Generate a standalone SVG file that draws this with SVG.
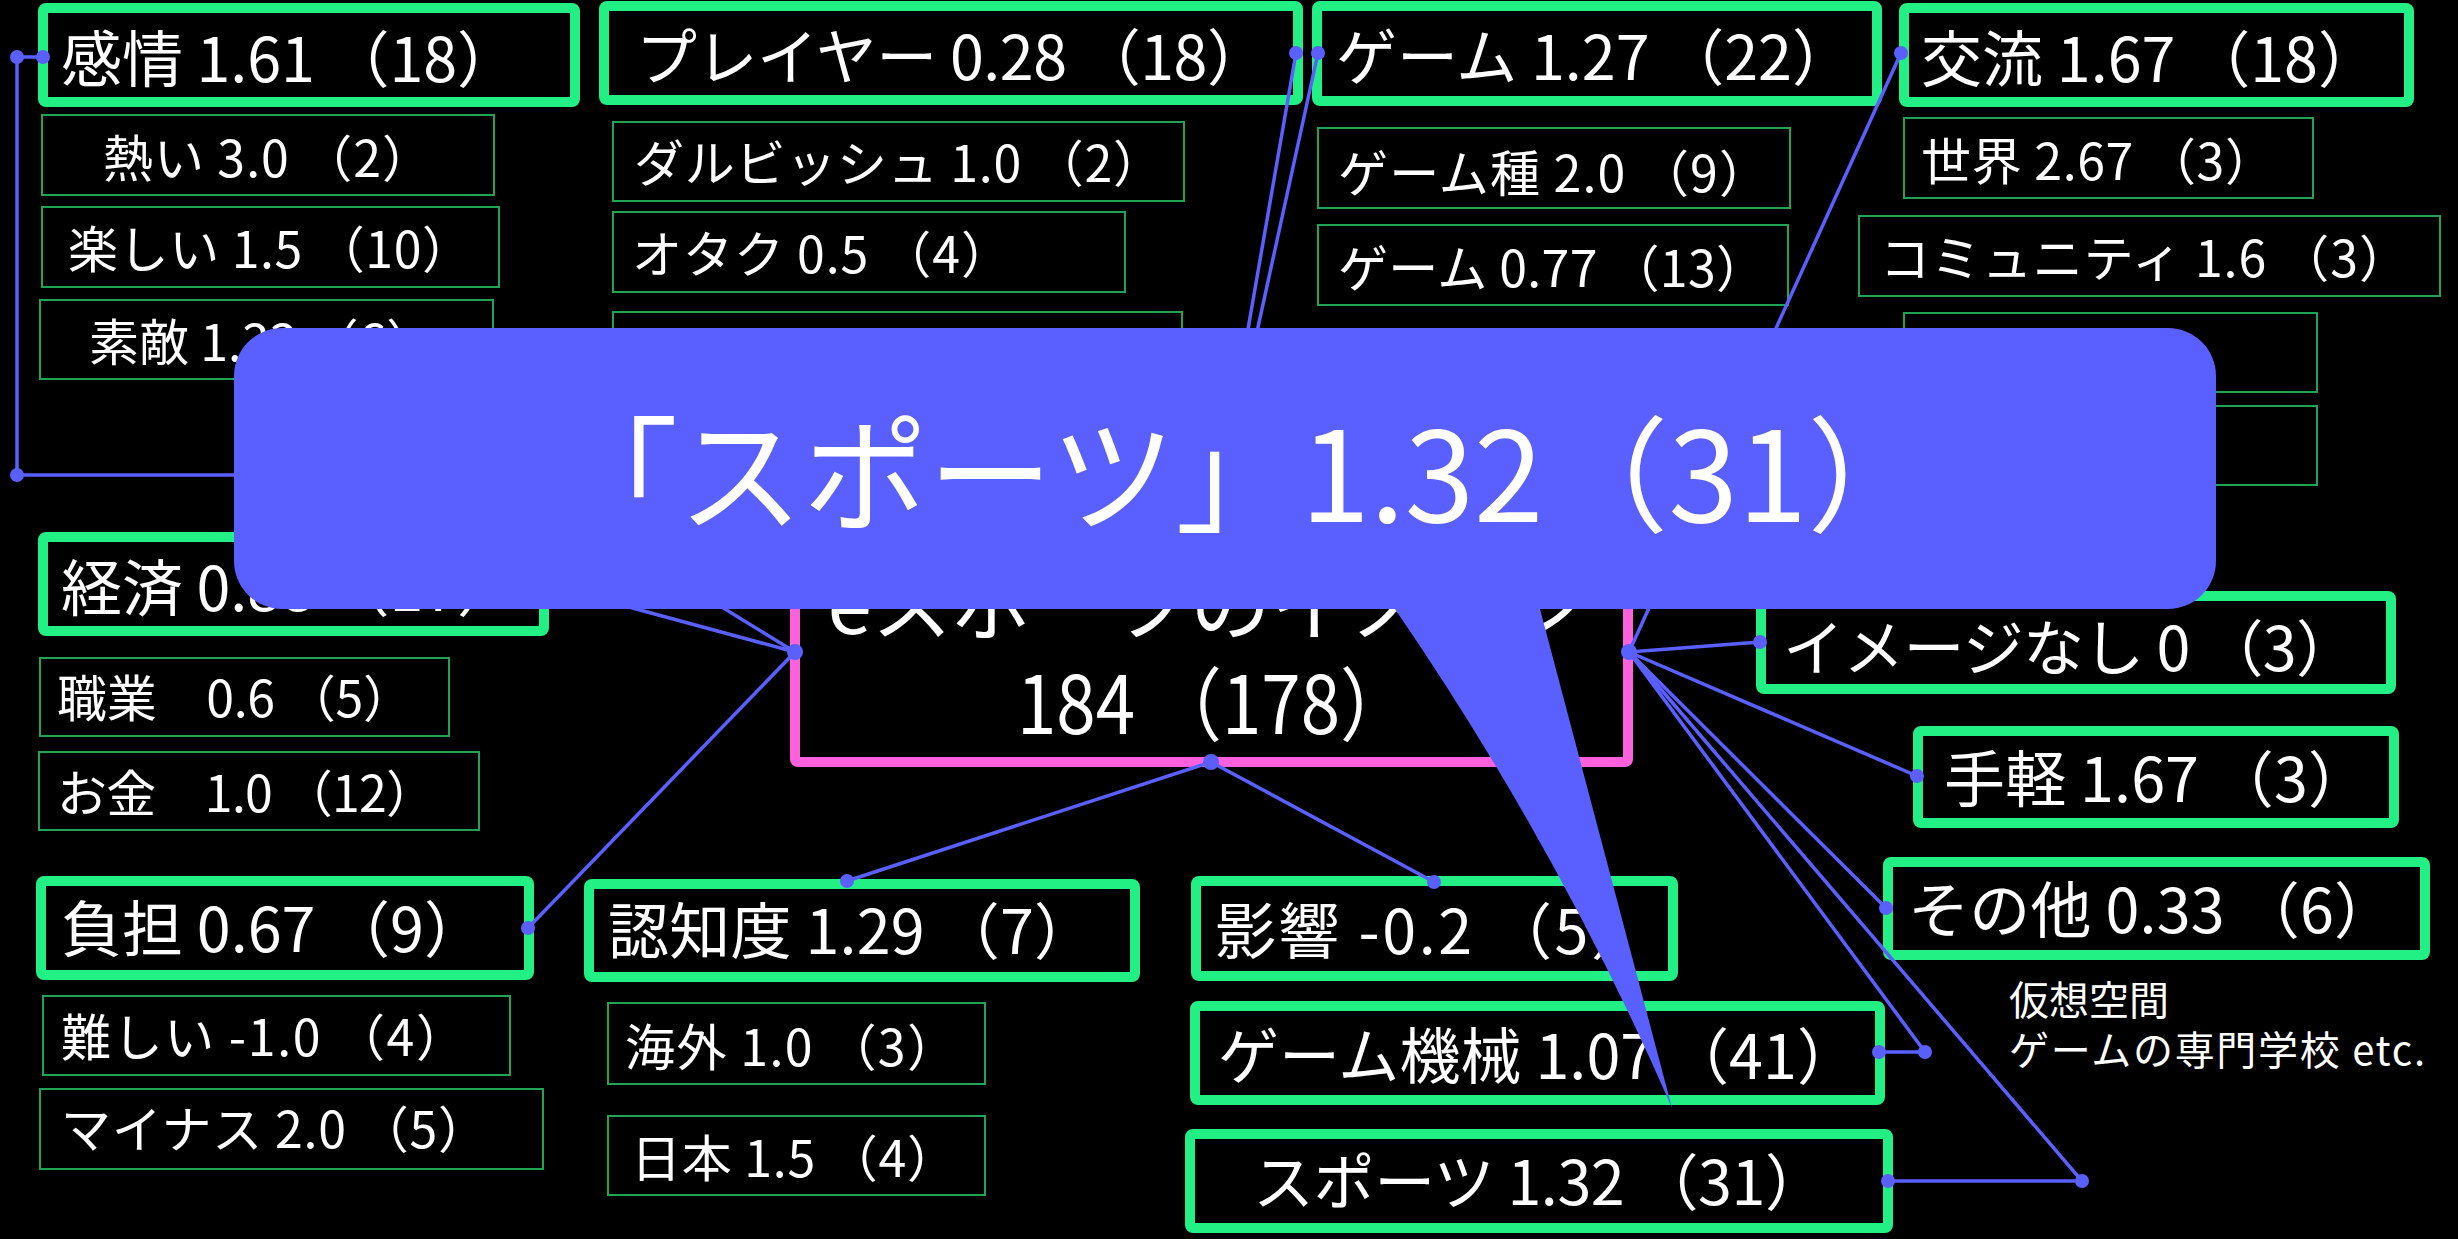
<svg xmlns="http://www.w3.org/2000/svg" width="2458" height="1239" viewBox="0 0 2458 1239">
<style>
.bg{fill:#000}
.mn rect{fill:#000;stroke:#22EF84;stroke-width:10;rx:3}
.sb rect{fill:#000;stroke:#1FA456;stroke-width:2}
text{font-family:"Noto Sans CJK JP","Noto Sans",sans-serif;fill:#fff}
.m{font-size:61px}
.s{font-size:50px}
.conn{stroke:#5A5FFF;stroke-width:3.5;fill:none}
.dot{fill:#5A5FFF}
</style>
<rect class="bg" x="0" y="0" width="2458" height="1239"/>

<g id="n-kanjo" class="mn"><rect x="43" y="8" width="532" height="94"/><text class="m" x="61" y="82" textLength="457" lengthAdjust="spacing">感情 1.61 （18）</text></g>
<g id="n-atsui" class="sb"><rect x="42" y="115" width="452" height="80"/><text class="s" x="103" y="177" textLength="329" lengthAdjust="spacing">熱い 3.0 （2）</text></g>
<g id="n-tanoshii" class="sb"><rect x="42" y="207" width="457" height="80"/><text class="s" x="68" y="268" textLength="404" lengthAdjust="spacing">楽しい 1.5 （10）</text></g>
<g id="n-suteki" class="sb"><rect x="40" y="300" width="453" height="79"/><text class="s" x="89" y="361">素敵 1.33 （6）</text></g>

<g id="n-player" class="mn"><rect x="604" y="6" width="694" height="94"/><text class="m" x="636" y="80" textLength="632" lengthAdjust="spacing">プレイヤー 0.28 （18）</text></g>
<g id="n-darvish" class="sb"><rect x="613" y="122" width="571" height="79"/><text class="s" x="634" y="182" textLength="529" lengthAdjust="spacing">ダルビッシュ 1.0 （2）</text></g>
<g id="n-otaku" class="sb"><rect x="613" y="212" width="512" height="80"/><text class="s" x="632" y="273" textLength="379" lengthAdjust="spacing">オタク 0.5 （4）</text></g>
<g id="n-player3" class="sb"><rect x="613" y="312" width="569" height="80"/></g>

<g id="n-game" class="mn"><rect x="1317" y="6" width="560" height="95"/><text class="m" x="1336" y="80" textLength="517" lengthAdjust="spacing">ゲーム 1.27 （22）</text></g>
<g id="n-gameshu" class="sb"><rect x="1318" y="128" width="472" height="80"/><text class="s" x="1338" y="192" textLength="431" lengthAdjust="spacing">ゲーム種 2.0 （9）</text></g>
<g id="n-game2" class="sb"><rect x="1318" y="225" width="470" height="80"/><text class="s" x="1338" y="287" textLength="428" lengthAdjust="spacing">ゲーム 0.77 （13）</text></g>

<g id="n-koryu" class="mn"><rect x="1904" y="8" width="505" height="94"/><text class="m" x="1921" y="82" textLength="458" lengthAdjust="spacing">交流 1.67 （18）</text></g>
<g id="n-sekai" class="sb"><rect x="1904" y="118" width="409" height="80"/><text class="s" x="1921" y="180" textLength="354" lengthAdjust="spacing">世界 2.67 （3）</text></g>
<g id="n-community" class="sb"><rect x="1859" y="216" width="581" height="80"/><text class="s" x="1880" y="277" textLength="529" lengthAdjust="spacing">コミュニティ 1.6 （3）</text></g>
<g id="n-koryu3" class="sb"><rect x="1904" y="313" width="413" height="79"/></g>
<g id="n-koryu4" class="sb"><rect x="1904" y="406" width="413" height="79"/></g>

<g id="n-keizai" class="mn"><rect x="43" y="537" width="501" height="94"/><text class="m" x="61" y="611" textLength="457" lengthAdjust="spacing">経済 0.88 （17）</text></g>
<g id="n-shokugyo" class="sb"><rect x="40" y="658" width="409" height="78"/><text class="s" x="57" y="717" textLength="356" lengthAdjust="spacing">職業　0.6 （5）</text></g>
<g id="n-okane" class="sb"><rect x="39" y="752" width="440" height="78"/><text class="s" x="57" y="812" textLength="379" lengthAdjust="spacing">お金　1.0 （12）</text></g>

<g id="n-futan" class="mn"><rect x="41" y="881" width="488" height="94"/><text class="m" x="61" y="952" textLength="424" lengthAdjust="spacing">負担 0.67 （9）</text></g>
<g id="n-muzukashii" class="sb"><rect x="43" y="996" width="467" height="79"/><text class="s" x="61" y="1056" textLength="405" lengthAdjust="spacing">難しい -1.0 （4）</text></g>
<g id="n-minus" class="sb"><rect x="40" y="1089" width="503" height="80"/><text class="s" x="61" y="1148" textLength="427" lengthAdjust="spacing">マイナス 2.0 （5）</text></g>

<g id="n-ninchido" class="mn"><rect x="589" y="884" width="546" height="93"/><text class="m" x="608" y="954" textLength="487" lengthAdjust="spacing">認知度 1.29 （7）</text></g>
<g id="n-kaigai" class="sb"><rect x="608" y="1003" width="377" height="81"/><text class="s" x="625" y="1066" textLength="332" lengthAdjust="spacing">海外 1.0 （3）</text></g>
<g id="n-nihon" class="sb"><rect x="608" y="1116" width="377" height="79"/><text class="s" x="631" y="1177" textLength="326" lengthAdjust="spacing">日本 1.5 （4）</text></g>

<g id="n-eikyo" class="mn"><rect x="1196" y="881" width="477" height="95"/><text class="m" x="1215" y="954" textLength="437" lengthAdjust="spacing">影響 -0.2 （5）</text></g>
<g id="n-gamekikai" class="mn"><rect x="1195" y="1006" width="685" height="94"/><text class="m" x="1218" y="1079" textLength="640" lengthAdjust="spacing">ゲーム機械 1.07 （41）</text></g>
<g id="n-sports" class="mn"><rect x="1190" y="1134" width="698" height="94"/><text class="m" x="1253" y="1205" textLength="573" lengthAdjust="spacing">スポーツ 1.32 （31）</text></g>

<g id="n-image-nashi" class="mn"><rect x="1761" y="596" width="630" height="93"/><text class="m" x="1783" y="671" textLength="574" lengthAdjust="spacing">イメージなし 0 （3）</text></g>
<g id="n-tegaru" class="mn"><rect x="1918" y="731" width="476" height="92"/><text class="m" x="1944" y="802" textLength="425" lengthAdjust="spacing">手軽 1.67 （3）</text></g>
<g id="n-sonota" class="mn"><rect x="1888" y="862" width="537" height="93"/><text class="m" x="1908" y="933" textLength="487" lengthAdjust="spacing">その他 0.33 （6）</text></g>

<g id="n-note"><text x="2009" y="1015" font-size="40">仮想空間</text><text x="2009" y="1065" font-size="40" textLength="416" lengthAdjust="spacing">ゲームの専門学校 etc.</text></g>

<g id="n-center"><rect x="795" y="542" width="833" height="220" fill="#000" stroke="#FF60DC" stroke-width="10" rx="3"/><text x="1208" y="634" font-size="80" text-anchor="middle">eスポーツのイメージ</text><text x="1017" y="734" font-size="80" textLength="394" lengthAdjust="spacingAndGlyphs">184 （178）</text></g>

<g id="connectors">
<polyline class="conn" points="43,57 17,57 17,475 507,475 795,652"/>
<line class="conn" x1="1296" y1="53" x2="1211" y2="542"/>
<line class="conn" x1="1318" y1="53" x2="1211" y2="542"/>
<line class="conn" x1="1901" y1="53" x2="1629" y2="652"/>
<line class="conn" x1="544" y1="584" x2="795" y2="652"/>
<line class="conn" x1="528" y1="928" x2="795" y2="652"/>
<line class="conn" x1="847" y1="881" x2="1211" y2="762"/>
<line class="conn" x1="1434" y1="882" x2="1211" y2="762"/>
<line class="conn" x1="1760" y1="642" x2="1629" y2="652"/>
<line class="conn" x1="1917" y1="776" x2="1629" y2="652"/>
<line class="conn" x1="1886" y1="908" x2="1629" y2="652"/>
<polyline class="conn" points="1879,1052 1925,1052 1629,652"/>
<polyline class="conn" points="1888,1181 2082,1181 1629,652"/>
<g class="dot">
<circle cx="43" cy="57" r="7"/><circle cx="17" cy="57" r="7"/><circle cx="17" cy="475" r="7"/>
<circle cx="1296" cy="53" r="7"/><circle cx="1318" cy="53" r="7"/><circle cx="1901" cy="53" r="7"/>
<circle cx="544" cy="584" r="7"/><circle cx="528" cy="928" r="7"/>
<circle cx="847" cy="881" r="7"/><circle cx="1434" cy="882" r="7"/>
<circle cx="1760" cy="642" r="7"/><circle cx="1917" cy="776" r="7"/><circle cx="1886" cy="908" r="7"/>
<circle cx="1879" cy="1052" r="7"/><circle cx="1925" cy="1052" r="7"/>
<circle cx="1888" cy="1181" r="7"/><circle cx="2082" cy="1181" r="7"/>
<circle cx="795" cy="652" r="8"/><circle cx="1629" cy="652" r="8"/><circle cx="1211" cy="542" r="8"/><circle cx="1211" cy="762" r="8"/>
</g>
</g>

<g id="callout">
<path d="M282,328 H2168 A48,48 0 0 1 2216,376 V561 A48,48 0 0 1 2168,609 H1540 L1672,1108 Q1560,850 1395,609 H282 A48,48 0 0 1 234,561 V376 A48,48 0 0 1 282,328 Z" fill="#5A5FFF"/>
<text x="553" y="522" font-size="125">「スポーツ」1.32（31）</text>
</g>
</svg>
